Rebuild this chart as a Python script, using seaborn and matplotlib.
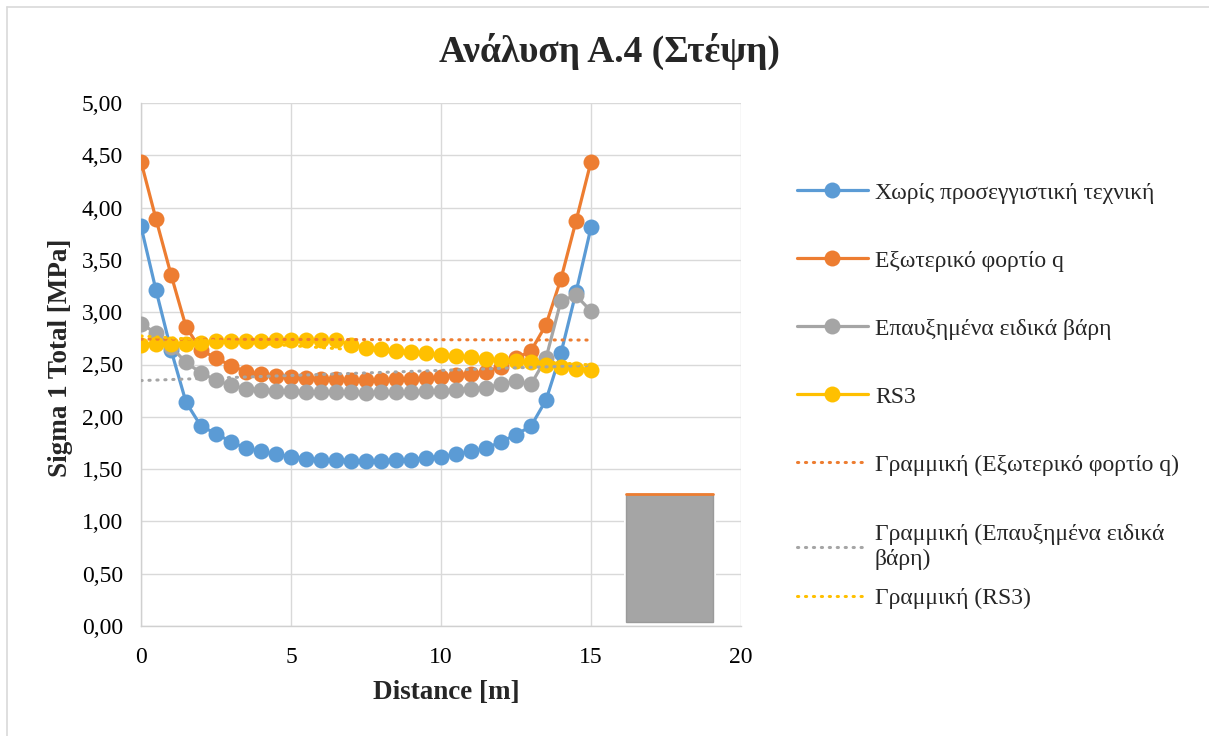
import numpy as np
import pandas as pd
import matplotlib
matplotlib.use("Agg")
import matplotlib.pyplot as plt
from matplotlib.patches import Rectangle
from matplotlib.lines import Line2D
from matplotlib.ticker import FuncFormatter, MultipleLocator
import seaborn as sns

# ---------------- data ----------------
distance = [0, 0.5, 1, 1.5, 2, 2.5, 3, 3.5, 4, 4.5, 5, 5.5, 6, 6.5, 7, 7.5,
            8, 8.5, 9, 9.5, 10, 10.5, 11, 11.5, 12, 12.5, 13, 13.5, 14, 14.5, 15]

no_technique = [3.82, 3.21, 2.64, 2.14, 1.91, 1.84, 1.76, 1.70, 1.67, 1.64, 1.62,
                1.60, 1.59, 1.59, 1.58, 1.58, 1.58, 1.59, 1.59, 1.61, 1.62, 1.64,
                1.67, 1.70, 1.76, 1.83, 1.91, 2.16, 2.61, 3.19, 3.81]

external_load = [4.44, 3.89, 3.36, 2.86, 2.64, 2.56, 2.49, 2.43, 2.41, 2.39, 2.38,
                 2.37, 2.36, 2.36, 2.35, 2.35, 2.35, 2.36, 2.36, 2.37, 2.38, 2.40,
                 2.41, 2.43, 2.48, 2.56, 2.63, 2.88, 3.32, 3.87, 4.44]

increased_weights = [2.89, 2.80, 2.67, 2.52, 2.42, 2.35, 2.30, 2.27, 2.26, 2.25, 2.25,
                     2.24, 2.24, 2.24, 2.24, 2.23, 2.24, 2.24, 2.24, 2.25, 2.25, 2.26,
                     2.27, 2.28, 2.31, 2.34, 2.31, 2.56, 3.11, 3.16, 3.01]

rs3 = [2.69, 2.70, 2.70, 2.70, 2.71, 2.72, 2.72, 2.72, 2.72, 2.73, 2.73,
       2.73, 2.73, 2.73, 2.69, 2.66, 2.65, 2.63, 2.62, 2.61, 2.59, 2.58,
       2.57, 2.55, 2.54, 2.53, 2.52, 2.50, 2.48, 2.46, 2.45]

series_labels = ["Χωρίς προσεγγιστική τεχνική", "Εξωτερικό φορτίο q",
                 "Επαυξημένα ειδικά βάρη", "RS3"]
trend_labels = ["Γραμμική (Εξωτερικό φορτίο q)",
                "Γραμμική (Επαυξημένα ειδικά\nβάρη)",
                "Γραμμική (RS3)"]
colors = ["#5B9BD5", "#ED7D31", "#A5A5A5", "#FFC000"]

title = "Ανάλυση Α.4 (Στέψη)"
xlabel = "Distance [m]"
ylabel = "Sigma 1 Total [MPa]"

# stray grey box (x0, y0, x1, y1 in data units)
box_x = [16.17, 19.07]
box_y = [0.04, 1.26]

# ---------------- style ----------------
sns.set_theme(style="white")
plt.rcParams["font.family"] = ["Liberation Serif", "DejaVu Serif"]

W, H = 1209, 736
fig = plt.figure(figsize=(W / 100, H / 100), dpi=100)
ax = fig.add_axes([141 / W, 1 - 626 / H, 600 / W, 523 / H])

df = pd.DataFrame({"x": distance, "s0": no_technique, "s1": external_load,
                   "s2": increased_weights, "s3": rs3})

for i, key in enumerate(["s0", "s1", "s2", "s3"]):
    sns.lineplot(data=df, x="x", y=key, ax=ax, color=colors[i], marker="o",
                 markersize=11.5, markeredgewidth=0, linewidth=2.3,
                 label=series_labels[i], zorder=3 + i * 0.1)

for j, key in enumerate(["s1", "s2", "s3"]):
    sns.regplot(data=df, x="x", y=key, ax=ax, scatter=False, ci=None,
                truncate=True, label=trend_labels[j],
                line_kws=dict(color=colors[j + 1], linewidth=2.2,
                              linestyle=(0, (0.4, 2.2)),
                              dash_capstyle="round", zorder=5))

# stray grey box from the original
pad_x, pad_y = 0.08, 0.03
ax.add_patch(Rectangle((box_x[0] - pad_x, box_y[0] - pad_y),
                       box_x[1] - box_x[0] + 2 * pad_x,
                       box_y[1] - box_y[0] + 2 * pad_y,
                       facecolor="white", edgecolor="none", zorder=1.5))
ax.add_patch(Rectangle((box_x[0], box_y[0]), box_x[1] - box_x[0],
                       box_y[1] - box_y[0], facecolor="#A5A5A5",
                       edgecolor="#9A9A9A", linewidth=1, zorder=2))
ax.plot(box_x, [box_y[1], box_y[1]], color="#ED7D31", linewidth=2, zorder=2.1)

# ---------------- axes ----------------
ax.set_xlim(0, 20)
ax.set_ylim(0, 5)
ax.xaxis.set_major_locator(MultipleLocator(5))
ax.yaxis.set_major_locator(MultipleLocator(0.5))
ax.yaxis.set_major_formatter(FuncFormatter(lambda v, p: f"{v:.2f}".replace(".", ",")))
ax.grid(True, color="#D9D9D9", linewidth=1.0)
ax.set_axisbelow(True)
for s in ["top", "right"]:
    ax.spines[s].set_visible(False)
for s in ["left", "bottom"]:
    ax.spines[s].set_color("#D0D0D0")
    ax.spines[s].set_linewidth(1.0)
ax.tick_params(axis="both", length=0, labelsize=17, colors="black")
ax.tick_params(axis="y", pad=13)
ax.tick_params(axis="x", pad=15)
ax.set_xlabel(xlabel, fontsize=19.5, fontweight="bold", labelpad=9)
ax.set_ylabel(ylabel, fontsize=19.5, fontweight="bold", labelpad=6)
ax.xaxis.label.set_x(0.5 + 5 / 600)
ax.yaxis.label.set_y(0.5 + 7 / 523)

fig.text(609 / W, 1 - 62 / H, title, ha="center", va="baseline",
         fontsize=27, fontweight="bold")

# legend (two blocks so the wrapped entry keeps the original spacing)
if ax.legend_:
    ax.legend_.remove()
handles, labels = ax.get_legend_handles_labels()
common = dict(loc="upper left", frameon=False, fontsize=17, handlelength=3.0,
              handletextpad=0.3, borderpad=0, borderaxespad=0, numpoints=1)
fig.legend(handles[:5], labels[:5], bbox_to_anchor=(797 / W, 1 - 182 / H),
           labelspacing=1.97, **common)
fig.legend(handles[5:], labels[5:], bbox_to_anchor=(797 / W, 1 - 524 / H),
           labelspacing=0.75, **common)

# chart border
fig.add_artist(Line2D([7 / W, 7 / W], [0, 1 - 7 / H], color="#D9D9D9", linewidth=1.2))
fig.add_artist(Line2D([7 / W, 1], [1 - 7 / H, 1 - 7 / H], color="#D9D9D9", linewidth=1.2))

fig.savefig("out.png", dpi=100)
